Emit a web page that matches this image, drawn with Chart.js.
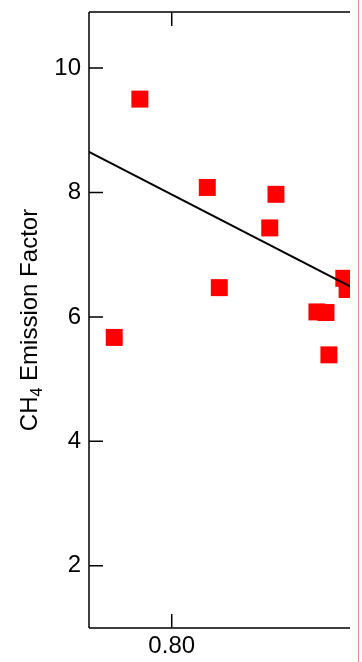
<!DOCTYPE html>
<html>
<head>
<meta charset="utf-8">
<script src="https://cdn.jsdelivr.net/npm/chart.js@4/dist/chart.umd.min.js"></script>
<style>
  html, body { margin: 0; padding: 0; background: #fff; }
  #wrap { position: relative; width: 362px; height: 662px; }
  #edge { position: absolute; left: 357.5px; top: 0; width: 1.5px; height: 662px; background: #ef8a8a; }
</style>
</head>
<body>
<div id="wrap"><canvas id="c"></canvas><div id="edge"></div></div>
<script>
// ---- data ----
const pointX = [0.7861, 0.7923, 0.8086, 0.8115, 0.8237, 0.8252, 0.8351, 0.8373, 0.8380, 0.8416, 0.8424];
const pointY = [5.67, 9.50, 8.08, 6.47, 7.43, 7.97, 6.08, 6.07, 5.39, 6.62, 6.44];
const fitX = [0.780, 0.8431];
const fitY = [8.65, 6.49];
const xTickValues = [0.80];
const yTickValues = [2, 4, 6, 8, 10];
const yTitleMain = "CH";
const yTitleSub = "4";
const yTitleRest = " Emission Factor";

const FONT = "'Liberation Sans', Arial, Helvetica, sans-serif";

const framePlugin = {
  id: 'frame',
  afterDatasetsDraw(chart) {
    const ctx = chart.ctx, a = chart.chartArea;
    const xs = chart.scales.x, ys = chart.scales.y;
    ctx.save();
    ctx.strokeStyle = '#000';
    ctx.lineWidth = 1.5;
    ctx.beginPath();
    ctx.moveTo(a.left, a.top); ctx.lineTo(a.right, a.top);
    ctx.moveTo(a.left, a.top); ctx.lineTo(a.left, a.bottom);
    ctx.moveTo(a.left, a.bottom); ctx.lineTo(a.right, a.bottom);
    const tl = 14;
    ys.ticks.forEach(t => {
      const py = ys.getPixelForValue(t.value);
      ctx.moveTo(a.left, py); ctx.lineTo(a.left + tl, py);
    });
    xs.ticks.forEach(t => {
      const px = xs.getPixelForValue(t.value);
      ctx.moveTo(px, a.bottom); ctx.lineTo(px, a.bottom - tl);
      ctx.moveTo(px, a.top); ctx.lineTo(px, a.top + tl);
    });
    ctx.stroke();
    ctx.restore();
  },
  afterDraw(chart) {
    const ctx = chart.ctx, a = chart.chartArea;
    const size = 24;
    ctx.save();
    ctx.fillStyle = '#000';
    ctx.textBaseline = 'alphabetic';
    ctx.font = size + 'px ' + FONT;
    const w1 = ctx.measureText(yTitleMain).width;
    const w3 = ctx.measureText(yTitleRest).width;
    ctx.font = Math.round(size * 0.65) + 'px ' + FONT;
    const w2 = ctx.measureText(yTitleSub).width;
    const total = w1 + w2 + w3;
    const cy = (a.top + a.bottom) / 2;
    ctx.translate(37, cy);
    ctx.rotate(-Math.PI / 2);
    let x = -total / 2;
    ctx.font = size + 'px ' + FONT;
    ctx.fillText(yTitleMain, x, 0); x += w1;
    ctx.font = Math.round(size * 0.65) + 'px ' + FONT;
    ctx.fillText(yTitleSub, x, size * 0.22); x += w2;
    ctx.font = size + 'px ' + FONT;
    ctx.fillText(yTitleRest, x, 0);
    ctx.restore();
  }
};

new Chart(document.getElementById('c'), {
  type: 'scatter',
  data: {
    datasets: [
      {
        label: 'fit',
        data: fitX.map((x, i) => ({ x, y: fitY[i] })),
        showLine: true,
        borderColor: '#000',
        borderWidth: 2,
        pointRadius: 0,
        fill: false,
        clip: 0,
        order: 0
      },
      {
        label: 'points',
        data: pointX.map((x, i) => ({ x, y: pointY[i] })),
        pointStyle: 'rect',
        pointRadius: 12,
        pointHoverRadius: 12,
        backgroundColor: '#ff0000',
        borderWidth: 0,
        clip: 0,
        order: 1
      }
    ]
  },
  options: {
    responsive: true,
    maintainAspectRatio: false,
    animation: false,
    events: [],
    layout: { padding: { top: 10, right: 11, bottom: 0, left: 0 } },
    plugins: { legend: { display: false }, tooltip: { enabled: false } },
    scales: {
      x: {
        type: 'linear',
        min: 0.78, max: 0.8431,
        grid: { display: false, drawTicks: false },
        border: { display: false },
        afterBuildTicks: s => { s.ticks = xTickValues.map(v => ({ value: v })); },
        afterFit: s => { s.height = 34; s.paddingLeft = 0; s.paddingRight = 0; },
        ticks: {
          padding: 4,
          color: '#000',
          font: { family: FONT, size: 24 },
          maxRotation: 0,
          callback: v => Number(v).toFixed(2)
        }
      },
      y: {
        type: 'linear',
        min: 1.0, max: 10.9,
        grid: { display: false, drawTicks: false },
        border: { display: false },
        afterBuildTicks: s => { s.ticks = yTickValues.map(v => ({ value: v })); },
        afterFit: s => { s.width = 89; s.paddingTop = 0; s.paddingBottom = 0; },
        ticks: {
          padding: 8,
          color: '#000',
          font: { family: FONT, size: 24 },
          callback: v => String(v)
        }
      }
    }
  },
  plugins: [framePlugin]
});
</script>
</body>
</html>
